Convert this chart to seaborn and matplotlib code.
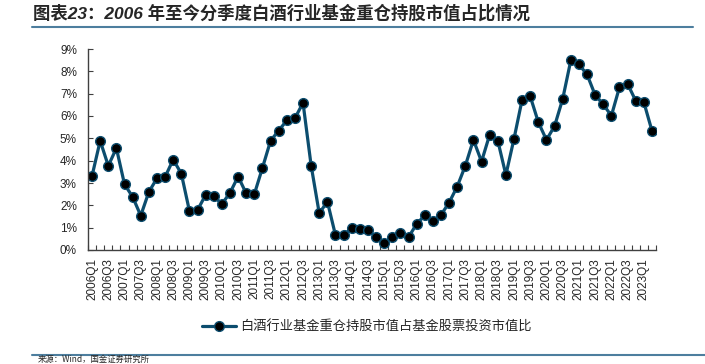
import matplotlib
matplotlib.use("Agg")
import matplotlib.pyplot as plt
from matplotlib.lines import Line2D
from matplotlib.ticker import FixedLocator, FuncFormatter
import pandas as pd
import seaborn as sns


TITLE = "图表23：2006 年至今分季度白酒行业基金重仓持股市值占比情况"
SERIES_NAME = "白酒行业基金重仓持股市值占基金股票投资市值比"
SOURCE = "来源：Wind，国金证券研究所"

YEARS = list(range(2006, 2024))
QUARTERS = [f"{y}Q{q}" for y in YEARS for q in range(1, 5)][:70]

# percent
SHARE = [
    3.32, 4.89, 3.77, 4.56, 2.94, 2.38, 1.54, 2.60, 3.21, 3.27, 4.05, 3.42,
    1.75, 1.79, 2.47, 2.41, 2.06, 2.56, 3.29, 2.53, 2.50, 3.68, 4.89,
    5.35, 5.80, 5.90, 6.59, 3.78, 1.64, 2.17, 0.66, 0.66, 0.99, 0.96, 0.91,
    0.57, 0.30, 0.58, 0.78, 0.57, 1.17, 1.55, 1.30, 1.57, 2.12, 2.84,
    3.77, 4.93, 3.96, 5.16, 4.90, 3.36, 4.98, 6.73, 6.88, 5.72, 4.93, 5.55,
    6.76, 8.49, 8.31, 7.86, 6.94, 6.52, 6.01, 7.29, 7.44, 6.68, 6.62, 5.34,
]

LINE_COLOR = "#0c4d6e"
RULE_COLOR = "#4d7e9e"
AXIS_COLOR = "#404040"


def main():
    data = pd.DataFrame({"quarter": QUARTERS, "share": SHARE})
    data["pos"] = range(len(data))

    sns.set_theme(style="white")
    plt.rcParams["font.family"] = ["Liberation Sans", "Noto Sans CJK SC", "DejaVu Sans"]

    fig = plt.figure(figsize=(7.05, 3.64), dpi=100)
    ax = fig.add_axes([88 / 705, 1 - 250 / 364, (656 - 88) / 705, (250 - 49) / 364])

    sns.lineplot(
        data=data, x="pos", y="share", ax=ax, color=LINE_COLOR, linewidth=2.3,
        marker="o", markersize=7, markerfacecolor="black",
        markeredgecolor=LINE_COLOR, markeredgewidth=1.0, label=SERIES_NAME,
    )

    ax.set_xlim(-0.5, len(data) - 0.5)
    ax.set_ylim(0, 9)
    ax.set_xlabel("")
    ax.set_ylabel("")

    ax.xaxis.set_major_locator(FixedLocator(data["pos"][::2]))
    ax.set_xticklabels(data["quarter"][::2], rotation=90)
    ax.xaxis.set_minor_locator(FixedLocator([p - 0.5 for p in range(len(data) + 1)]))
    ax.tick_params(axis="x", which="major", length=0, pad=6, labelsize=8.5)
    ax.tick_params(axis="x", which="minor", direction="in", length=3.5,
                   width=0.8, color=AXIS_COLOR, bottom=True)

    ax.set_yticks(range(0, 10))
    ax.yaxis.set_major_formatter(FuncFormatter(lambda v, _: f"{v:.0f}%"))
    ax.tick_params(axis="y", direction="in", length=3.5, width=0.8,
                   color=AXIS_COLOR, left=True, pad=8, labelsize=8.5)

    for side in ["top", "right"]:
        ax.spines[side].set_visible(False)
    for side in ["left", "bottom"]:
        ax.spines[side].set_color(AXIS_COLOR)
        ax.spines[side].set_linewidth(1.0)

    ax.get_legend().remove()
    handles, labels = ax.get_legend_handles_labels()
    fig.legend(
        handles, labels, loc="center", bbox_to_anchor=(367 / 705, 1 - 327 / 364),
        frameon=False, handlelength=2.6, handletextpad=0.3, fontsize=9.5,
    )

    fig.text(33 / 705, 1 - 19 / 364, TITLE, fontsize=12.5, fontweight="bold",
             style="italic", ha="left", va="baseline",
             family=["Liberation Sans", "Noto Sans CJK SC"])
    fig.add_artist(Line2D([32 / 705, 693 / 705], [1 - 26.5 / 364] * 2,
                          transform=fig.transFigure, color=RULE_COLOR, linewidth=1.5))
    fig.add_artist(Line2D([32 / 705, 705 / 705], [1 - 354.5 / 364] * 2,
                          transform=fig.transFigure, color=RULE_COLOR, linewidth=1.5))
    fig.text(38 / 705, 1 - 363.5 / 364, SOURCE, fontsize=6, ha="left", va="bottom",
             family=["Noto Sans CJK SC", "DejaVu Sans"])

    fig.savefig("out.png", dpi=100)
    plt.close(fig)


if __name__ == "__main__":
    main()
